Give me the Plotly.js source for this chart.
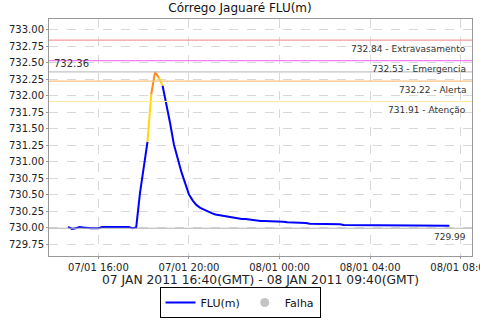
<!DOCTYPE html>
<html>
<head>
<meta charset="utf-8">
<script src="https://cdn.plot.ly/plotly-3.0.1.min.js"></script>
<style>
  html, body { margin: 0; padding: 0; background: #fff; }
  #chart { width: 480px; height: 320px; }
</style>
</head>
<body>
<div id="chart"></div>
<script>
// ---- data (10-minute readings, local time, starting 07/01/2011 14:40) ----
const seriesName = 'FLU(m)';
const failName = 'Falha';
const startTime = '2011-01-07T14:40:00Z';
const stepMinutes = 10;
const levels = [
  730.01, 729.98, 729.99, 730.01, 730.00, 729.99, 729.99, 729.99, 729.99, 730.01,
  730.01, 730.01, 730.01, 730.01, 730.01, 730.01, 730.01, 729.99, 730.00, 730.52,
  730.92, 731.30, 732.02, 732.36, 732.27, 732.15, 731.88, 731.58, 731.26, 731.03,
  730.84, 730.67, 730.50, 730.41, 730.34, 730.30, 730.27, 730.24, 730.22, 730.20,
  730.19, 730.17, 730.16, 730.15, 730.14, 730.14, 730.13, 730.13, 730.12, 730.11,
  730.11, 730.10, 730.10, 730.10, 730.09, 730.09, 730.09, 730.09, 730.08, 730.08,
  730.08, 730.08, 730.07, 730.07, 730.06, 730.06, 730.06, 730.06, 730.06, 730.06,
  730.06, 730.06, 730.05, 730.04, 730.04, 730.04, 730.04, 730.04, 730.04, 730.04,
  730.04, 730.04, 730.04, 730.04, 730.04, 730.03, 730.03, 730.03, 730.03, 730.03,
  730.03, 730.03, 730.03, 730.03, 730.03, 730.03, 730.03, 730.03, 730.03, 730.03,
  730.03, 730.03
];

// alarm thresholds
const thresholdValues = [732.84, 732.53, 732.22, 731.91];
const thresholdNames  = ['Extravasamento', 'Emergencia', 'Alerta', 'Atenção'];
const thresholdColors = ['#f59a9a', '#f47ff4', '#ffc27f', '#ffe99a'];
const maxValue = 732.36;
const minValue = 729.99;

const chartTitle = 'Córrego Jaguaré FLU(m)';
const xTitle = '07 JAN 2011 16:40(GMT) - 08 JAN 2011 09:40(GMT)';

// ---- build time stamps ----
const t0 = Date.parse(startTime);
const times = levels.map((_, i) =>
  new Date(t0 + i * stepMinutes * 60000).toISOString().slice(0, 16).replace('T', ' '));

// ---- colour each segment by the level it reaches ----
const BLUE = '#0000ff', YELLOW = '#ffd800', ORANGE = '#ff8a1c';
function levelColor(v) {
  if (v > thresholdValues[2]) return ORANGE;
  if (v > thresholdValues[3]) return YELLOW;
  return BLUE;
}
const traces = [];
let cur = null;
let legendShown = false;
for (let i = 1; i < levels.length; i++) {
  const c = levelColor(levels[i]);
  if (!cur || cur.line.color !== c) {
    const show = (c === BLUE && !legendShown);
    if (show) legendShown = true;
    cur = {
      type: 'scatter', mode: 'lines',
      x: [times[i - 1]], y: [levels[i - 1]],
      line: { color: c, width: 2 },
      name: seriesName,
      showlegend: show, hoverinfo: 'x+y'
    };
    traces.push(cur);
  }
  cur.x.push(times[i]);
  cur.y.push(levels[i]);
}
traces.push({
  type: 'scatter', mode: 'markers', x: [null], y: [null],
  name: failName, marker: { color: '#c4c4c4', size: 9 }, showlegend: true
});

// ---- reference lines and labels ----
const shapes = [];
const annotations = [];
const lblFont = { family: 'DejaVu Sans', size: 9, color: '#333' };
thresholdValues.forEach((v, i) => {
  shapes.push({ type: 'line', xref: 'paper', x0: 0, x1: 1, yref: 'y', y0: v, y1: v,
                line: { color: thresholdColors[i], width: 1.2 } });
  annotations.push({ xref: 'paper', x: 0.99, xanchor: 'right', yref: 'y', y: v,
                     yanchor: 'middle', yshift: -8.5, showarrow: false,
                     text: v.toFixed(2) + ' - ' + thresholdNames[i], font: lblFont });
});
shapes.push({ type: 'line', xref: 'paper', x0: 0, x1: 1, yref: 'y', y0: maxValue, y1: maxValue,
              line: { color: '#c4c4c4', width: 1.2 } });
annotations.push({ xref: 'paper', x: 0.008, xanchor: 'left', yref: 'y', y: maxValue,
                   yanchor: 'middle', yshift: 8.5, showarrow: false,
                   text: maxValue.toFixed(2), font: { family: 'DejaVu Sans', size: 10, color: '#333' } });
shapes.push({ type: 'line', xref: 'paper', x0: 0, x1: 1, yref: 'y', y0: minValue, y1: minValue,
              line: { color: '#b4b4b4', width: 1.2 } });
annotations.push({ xref: 'paper', x: 0.99, xanchor: 'right', yref: 'y', y: minValue,
                   yanchor: 'middle', yshift: -9, showarrow: false,
                   text: minValue.toFixed(2), font: lblFont });

const layout = {
  width: 480, height: 320,
  margin: { l: 49, r: 8, t: 19, b: 64 },
  paper_bgcolor: '#ffffff', plot_bgcolor: '#ffffff',
  font: { family: 'DejaVu Sans', size: 10, color: '#222' },
  title: { text: chartTitle, font: { family: 'DejaVu Sans', size: 12, color: '#111' },
           x: 0.5, xanchor: 'center', xref: 'container',
           y: 1 - 8 / 320, yref: 'container', yanchor: 'middle' },
  xaxis: {
    type: 'date',
    range: ['2011-01-07 13:49', '2011-01-08 08:30'],
    tick0: '2011-01-07 00:00', dtick: 4 * 3600 * 1000,
    tickformat: '%d/%m %H:%M',
    ticklabeloverflow: 'allow',
    showgrid: true, gridcolor: '#d8d8d8', griddash: 'dash', gridwidth: 1,
    showline: true, linecolor: '#999', linewidth: 1, mirror: true,
    ticks: 'outside', ticklen: 2, tickcolor: '#999',
    tickfont: { family: 'DejaVu Sans', size: 10, color: '#222' },
    zeroline: false,
    title: { text: xTitle, font: { family: 'DejaVu Sans', size: 12.3, color: '#222' }, standoff: 4 }
  },
  yaxis: {
    range: [729.57, 733.16],
    tick0: 730, dtick: 0.25, tickformat: '.2f',
    showgrid: true, gridcolor: '#d8d8d8', griddash: 'dash', gridwidth: 1,
    showline: true, linecolor: '#999', linewidth: 1, mirror: true,
    ticks: 'outside', ticklen: 2, tickcolor: '#999',
    tickfont: { family: 'DejaVu Sans', size: 10, color: '#222' },
    zeroline: false
  },
  showlegend: true,
  legend: {
    orientation: 'h', xref: 'container', x: 0.5, xanchor: 'center',
    yref: 'container', y: 2 / 320, yanchor: 'bottom',
    bordercolor: '#000', borderwidth: 1, bgcolor: '#fff',
    font: { family: 'DejaVu Sans', size: 11, color: '#111' },
    itemwidth: 30, tracegroupgap: 0
  },
  shapes: shapes,
  annotations: annotations
};

Plotly.newPlot('chart', traces, layout, { displayModeBar: false, staticPlot: true });
</script>
</body>
</html>
